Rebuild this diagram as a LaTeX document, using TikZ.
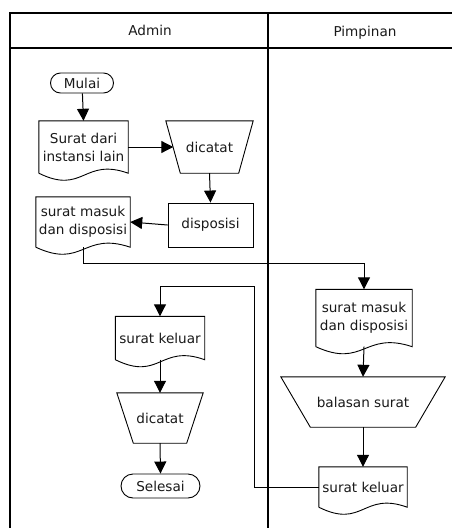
\documentclass[tikz,border=0pt]{standalone}
\usepackage{fontspec}
\setmainfont{DejaVu Sans}
\usetikzlibrary{shapes.misc,arrows.meta,calc}

% document symbol: rectangle whose bottom edge is a wave
\newcommand\docshape[1]{%
  \draw[shapeline] (#1.south west) -- (#1.north west) -- (#1.north east) -- (#1.south east)
    .. controls ($(#1.south)+(0,-16)$) and ($(#1.south)+(0,22)$) .. (#1.south west);}
% manual operation symbol: trapezoid, wide on top; #2 = inset of each bottom corner
\newcommand\manualshape[2]{%
  \draw[shapeline] (#1.north west) -- (#1.north east) -- ($(#1.south east)+(-#2,0)$)
    -- ($(#1.south west)+(#2,0)$) -- cycle;}

\begin{document}
\begin{tikzpicture}[x=1pt,y=-1pt,
  every node/.style={font=\fontsize{13.6}{18}\selectfont, text=black!90, inner sep=1pt, align=center},
  shapeline/.style={line width=0.9pt},
  lane/.style={line width=2pt},
  flow/.style={line width=1pt, -{Triangle[length=12pt,width=12pt]}},
  terminal/.style={rounded rectangle, draw, shapeline},
  process/.style={rectangle, draw, shapeline},
  box/.style={rectangle, inner sep=0pt},
]
\useasboundingbox (0,0) rectangle (452,528);

% swimlane frame
\draw[lane] (10,13) rectangle (480,560);
\draw[lane] (10,48) -- (480,48);
\draw[lane] (268,13) -- (268,560);
\node[anchor=base] (hadmin) at (150,35) {Admin};
\node[anchor=base] (hpimpinan) at (365,36) {Pimpinan};

% Admin lane, upper part
\node[terminal, minimum width=65, minimum height=20] (mulai) at (82,83) {Mulai};
\node[box, minimum width=89, minimum height=52] (surat1) at (83.5,147) {Surat dari\\instansi lain};
\node[box, minimum width=87, minimum height=52] (catat1) at (209.5,147) {dicatat};
\node[process, minimum width=85, minimum height=44] (dispo) at (210.5,225) {disposisi};
\node[box, minimum width=94, minimum height=50] (masuk1) at (83,222) {surat masuk\\dan disposisi};

% Pimpinan lane
\node[box, minimum width=96, minimum height=57] (masuk2) at (364,318) {surat masuk\\dan disposisi};
\node[box, minimum width=164, minimum height=50] (balas) at (363,402) {balasan surat};
\node[box, minimum width=88, minimum height=40] (keluar2) at (363,487) {surat keluar};

% Admin lane, lower part
\node[box, minimum width=89, minimum height=43] (keluar1) at (160,338) {surat keluar};
\node[box, minimum width=86, minimum height=50] (catat2) at (160,418) {dicatat};
\node[terminal, minimum width=81, minimum height=24] (selesai) at (160.5,486) {Selesai};

\docshape{surat1}
\docshape{masuk1}
\docshape{masuk2}
\docshape{keluar2}
\docshape{keluar1}
\manualshape{catat1}{14.5}
\manualshape{balas}{29.5}
\manualshape{catat2}{16.5}

\coordinate (turn) at (254,286);

% connectors
\draw[flow] (mulai) -- (surat1.north);
\draw[flow] (surat1.east) -- ($(catat1.west)+(7.5,0)$);
\draw[flow] (catat1.south) -- (dispo.north);
\draw[flow] (dispo.west) -- (masuk1.east);
\draw[flow] (masuk1.south) -- ++(0,16) -| (masuk2.north);
\draw[flow] (masuk2.south) -- (balas.north);
\draw[flow] (balas.south) -- (keluar2.north);
\draw[flow] (keluar2.west) -| (turn) -| (keluar1.north);
\draw[flow] (keluar1.south) -- (catat2.north);
\draw[flow] (catat2.south) -- (selesai.north);
\end{tikzpicture}
\end{document}
